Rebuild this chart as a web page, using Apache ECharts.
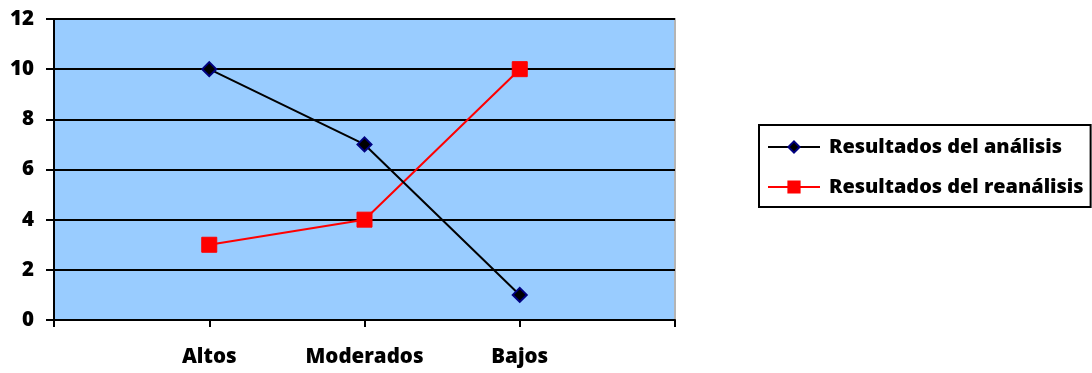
<!DOCTYPE html>
<html>
<head>
<meta charset="utf-8">
<script src="https://cdn.jsdelivr.net/npm/echarts@6/dist/echarts.min.js"></script>
<style>
  html, body { margin: 0; padding: 0; background: #ffffff; }
  #chart { width: 1092px; height: 373px; }
</style>
</head>
<body>
<div id="chart"></div>
<script>
// Categories and values for the two result series
const categories = ['Altos', 'Moderados', 'Bajos'];
const analisis = [10, 7, 1];
const reanalisis = [3, 4, 10];
const yTicks = [0, 2, 4, 6, 8, 10, 12];

// The category axis has an empty slot at each end so points sit on inner ticks
const axisCats = [''].concat(categories, ['']);
const pad = arr => ['-'].concat(arr, ['-']);

const FONT = 'Open Sans';
const WEIGHT = 800;
const chart = echarts.init(document.getElementById('chart'));
chart.setOption({
  animation: false,
  backgroundColor: '#ffffff',
  textStyle: { fontFamily: FONT },
  grid: { left: 54, right: 417, top: 19, bottom: 53, show: true,
          backgroundColor: '#99ccff', borderColor: '#b4b4b4', borderWidth: 2 },
  legend: {
    left: 759, top: 125,
    orient: 'vertical',
    backgroundColor: '#ffffff',
    borderColor: '#000000', borderWidth: 2, borderRadius: 0,
    padding: [10, 7, 8, 8],
    itemGap: 16,
    itemWidth: 52, itemHeight: 14,
    textStyle: { fontFamily: FONT, fontWeight: WEIGHT, fontSize: 19.9, lineHeight: 24,
                 color: '#000000', padding: [0, 0, 0, 4] },
    data: ['Resultados del análisis', 'Resultados del reanálisis']
  },
  xAxis: {
    type: 'category',
    data: axisCats,
    boundaryGap: false,
    axisLine: { lineStyle: { color: '#000000', width: 2 } },
    axisTick: { show: true, length: 7, lineStyle: { color: '#000000', width: 2 } },
    axisLabel: { color: '#000000', fontWeight: WEIGHT, fontSize: 20.5, margin: 27, interval: 0 },
    splitLine: { show: false }
  },
  yAxis: {
    type: 'value',
    min: yTicks[0], max: yTicks[yTicks.length - 1], interval: 2,
    axisLine: { show: true, lineStyle: { color: '#000000', width: 2 } },
    axisTick: { show: true, length: 8, lineStyle: { color: '#000000', width: 2 } },
    axisLabel: { color: '#000000', fontWeight: WEIGHT, fontSize: 20.5, margin: 20 },
    splitLine: { show: true, lineStyle: { color: '#000000', width: 2 } }
  },
  series: [
    {
      name: 'Resultados del análisis',
      type: 'line',
      data: pad(analisis),
      symbol: 'diamond',
      symbolSize: 14,
      lineStyle: { color: '#000000', width: 2 },
      itemStyle: { color: '#000000', borderColor: '#000080', borderWidth: 2 },
      z: 3
    },
    {
      name: 'Resultados del reanálisis',
      type: 'line',
      data: pad(reanalisis),
      symbol: 'rect',
      symbolSize: 15,
      lineStyle: { color: '#ff0000', width: 2 },
      itemStyle: { color: '#ff0000', borderColor: '#ff0000', borderWidth: 1 },
      z: 2
    }
  ]
});
</script>
</body>
</html>
